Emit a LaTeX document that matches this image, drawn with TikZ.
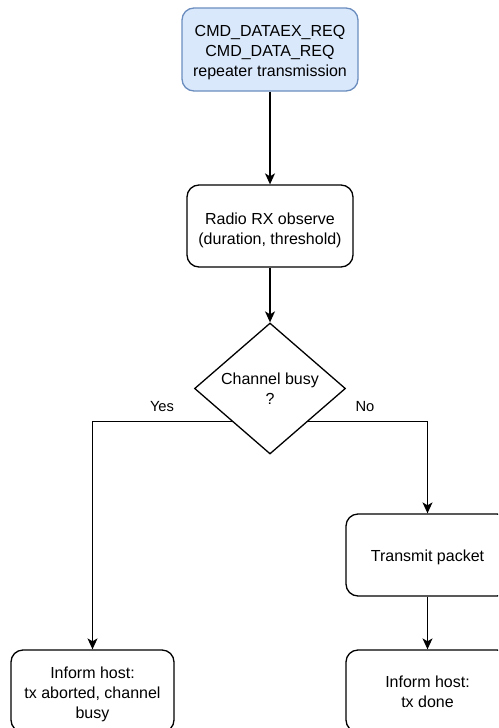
\documentclass[tikz,border=0pt]{standalone}
\usepackage{fontspec}
\setmainfont{Liberation Sans}
\usetikzlibrary{shapes.geometric,arrows.meta}
\definecolor{bluefill}{HTML}{DAE8FC}
\definecolor{blueline}{HTML}{6C8EBF}
\tikzset{
  txt/.style={font=\fontsize{16}{20}\selectfont, align=center},
  intxt/.style={txt, yshift=#1, inner sep=0pt},
  boxnode/.style={draw=black, line width=1.3pt, rounded corners=12pt, minimum width=163pt, minimum height=82pt, inner sep=0pt},
  startnode/.style={boxnode, fill=bluefill, draw=blueline, minimum width=176pt, minimum height=83pt},
  decnode/.style={txt, draw=black, line width=1.3pt, shape=diamond, minimum width=151pt, minimum height=131pt, inner sep=0pt},
  conn/.style={draw=black, line width=1.3pt, -{Stealth[length=11pt,width=10pt,inset=3pt]}},
  lbl/.style={font=\fontsize{14.7}{17}\selectfont}
}
\begin{document}
\begin{tikzpicture}[x=1pt,y=-1pt]
\useasboundingbox (0,0) rectangle (498,728);
\clip (0,0) rectangle (498,728);
\node[startnode, label={[intxt=-3pt]center:{CMD\_DATAEX\_REQ\\CMD\_DATA\_REQ\\repeater transmission}}] (start) at (270,49.5) {};
\node[boxnode, minimum width=166pt, label={[intxt=-4pt]center:{Radio RX observe\\(duration, threshold)}}] (obs) at (270,226) {};
\node[decnode] (dec) at (270,388.5) {Channel busy\\?};
\node[boxnode, label={[intxt=-2pt]center:{Transmit packet}}] (tx) at (427.5,555) {};
\node[boxnode, label={[intxt=-3pt]center:{Inform host:\\tx aborted, channel\\busy}}] (abort) at (92.5,691) {};
\node[boxnode, label={[intxt=-1pt]center:{Inform host:\\tx done}}] (done) at (427.5,691) {};
\draw[conn] (start) -- (obs);
\draw[conn] (obs) -- (dec);
\draw[conn] (dec.south west) -| (abort.north);
\draw[conn] (dec.south east) -| (tx.north);
\draw[conn] (tx) -- (done);
\node[lbl] (yes) at (162,407) {Yes};
\node[lbl] (no) at (365,407) {No};
\end{tikzpicture}
\end{document}
